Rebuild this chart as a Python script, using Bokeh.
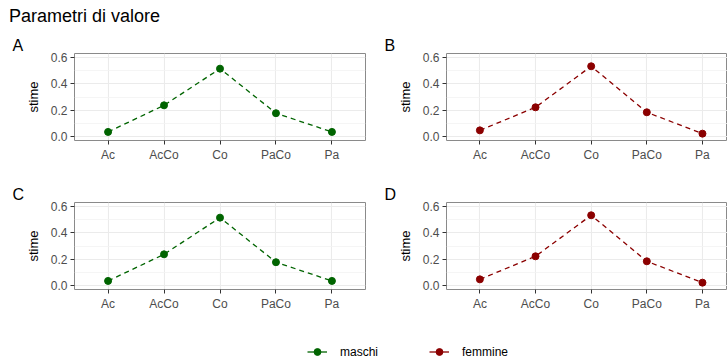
from bokeh.plotting import figure
from bokeh.models import (Range1d, FixedTicker, PrintfTickFormatter, ColumnDataSource,
                          Legend, LegendItem, Div)
from bokeh.layouts import column, row
from bokeh.embed import file_html
from bokeh.resources import INLINE

# ---------------- data ----------------
categories = ["Ac", "AcCo", "Co", "PaCo", "Pa"]
maschi = [0.035, 0.237, 0.515, 0.177, 0.035]
femmine = [0.047, 0.222, 0.533, 0.184, 0.022]
y_ticks = [0.0, 0.2, 0.4, 0.6]
y_minor = [0.1, 0.3, 0.5]
panel_letters = ["A", "B", "C", "D"]
series_names = ["maschi", "femmine"]
series_colors = ["#006400", "#8B0000"]
main_title = "Parametri di valore"
y_label = "stime"

FONT = "Liberation Sans"


def panel(letter, values, color, width, border_left, border_right, x_end):
    xs = list(range(len(categories)))
    src = ColumnDataSource(dict(x=xs, y=values, cat=categories))
    p = figure(width=width, height=149, x_range=Range1d(-0.6, x_end),
               y_range=Range1d(-0.03, 0.63), output_backend="svg",
               toolbar_location=None, title=letter,
               min_border_left=border_left, min_border_right=border_right,
               min_border_top=25, min_border_bottom=37)
    p.title.align = "left"
    p.title.offset = -62
    p.title.standoff = 0
    p.title.text_font = FONT
    p.title.text_font_size = "16px"
    p.title.text_font_style = "normal"
    p.title.text_color = "#000000"

    xt = FixedTicker(ticks=xs)
    yt = FixedTicker(ticks=y_ticks, minor_ticks=y_minor)
    p.xaxis.ticker = xt
    p.xgrid.ticker = xt
    p.yaxis.ticker = yt
    p.ygrid.ticker = yt
    p.xaxis.major_label_overrides = {i: c for i, c in enumerate(categories)}
    p.yaxis.formatter = PrintfTickFormatter(format="%.1f")
    p.yaxis.axis_label = y_label

    for ax in (p.xaxis[0], p.yaxis[0]):
        ax.axis_line_color = None
        ax.major_tick_line_color = "#333333"
        ax.major_tick_out = 4
        ax.major_tick_in = 0
        ax.minor_tick_line_color = None
        ax.major_label_text_font = FONT
        ax.major_label_text_font_size = "12px"
        ax.major_label_text_color = "#4d4d4d"
        ax.major_label_standoff = 3
        ax.axis_label_text_font = FONT
        ax.axis_label_text_font_size = "13px"
        ax.axis_label_text_font_style = "normal"
        ax.axis_label_text_color = "#000000"
        ax.axis_label_standoff = 7

    p.xgrid.grid_line_color = "#ebebeb"
    p.xgrid.grid_line_width = 1.1
    p.ygrid.grid_line_color = "#ebebeb"
    p.ygrid.grid_line_width = 1.1
    p.ygrid.minor_grid_line_color = "#f2f2f2"
    p.ygrid.minor_grid_line_width = 0.8
    p.outline_line_color = "#8a8a8a"
    p.outline_line_width = 1

    p.line("x", "y", source=src, color=color, line_dash="5 4", line_width=1.3)
    p.scatter("x", "y", source=src, marker="circle", size=7, color=color)
    return p


pa = panel(panel_letters[0], maschi, series_colors[0], 380, 74, 15, 4.6)
pb = panel(panel_letters[1], femmine, series_colors[1], 347, 66, 0, 4.45)
pc = panel(panel_letters[2], maschi, series_colors[0], 380, 74, 15, 4.6)
pd = panel(panel_letters[3], femmine, series_colors[1], 347, 66, 0, 4.45)

title_div = Div(text=main_title, width=727, height=28, margin=(0, 0, 0, 0),
                styles={"font-family": FONT, "font-size": "18px",
                        "line-height": "20px", "padding-left": "9px",
                        "padding-top": "6px", "color": "#000000"})

# legend strip: series drawn outside its visible range, only the legend shows
lp = figure(width=727, height=35, x_range=Range1d(100, 101), y_range=Range1d(0, 1),
            output_backend="svg", toolbar_location=None, min_border=0,
            x_axis_location=None, y_axis_location=None)
lp.outline_line_color = None
lp.grid.visible = False
items = []
for name, vals, color in zip(series_names, [maschi, femmine], series_colors):
    s = ColumnDataSource(dict(x=list(range(len(categories))), y=vals))
    r1 = lp.line("x", "y", source=s, color=color, line_width=1.3)
    r2 = lp.scatter("x", "y", source=s, marker="circle", size=7, color=color)
    items.append(LegendItem(label=name, renderers=[r1, r2]))
legend = Legend(items=items, orientation="horizontal", location=(307, 1),
                padding=0, margin=0, spacing=51, glyph_width=20, glyph_height=17,
                label_height=17, label_standoff=13, label_text_font=FONT,
                label_text_font_size="12px", label_text_color="#000000",
                border_line_color=None, background_fill_alpha=0)
lp.add_layout(legend)

layout = column(title_div, row(pa, pb), row(pc, pd), lp)

open("out.html", "w").write(file_html(layout, INLINE))
